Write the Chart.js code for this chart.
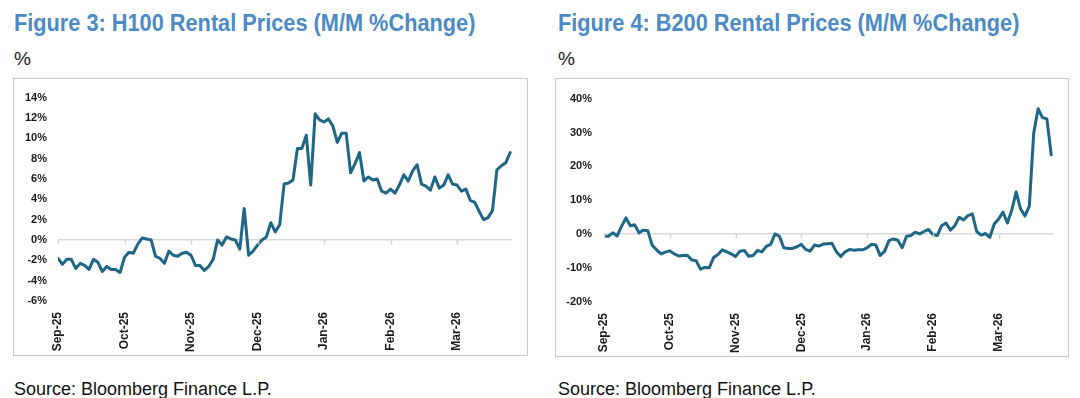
<!DOCTYPE html>
<html>
<head>
<meta charset="utf-8">
<script src="https://cdn.jsdelivr.net/npm/chart.js@4.4.1/dist/chart.umd.min.js"></script>
<style>
  body { margin: 0; width: 1080px; height: 398px; background: #fff; position: relative; overflow: hidden; font-family: "Liberation Sans", Arial, sans-serif; }
  .title { position: absolute; font-weight: bold; font-size: 23px; line-height: 23px; color: #4b8ac6; white-space: nowrap; transform: scaleX(0.945); transform-origin: left top; }
  .unit { position: absolute; font-size: 19px; line-height: 19px; color: #1a1a1a; }
  .source { position: absolute; font-size: 18px; line-height: 18px; color: #111; white-space: nowrap; }
  .box { position: absolute; border: 1px solid #c9c9c9; box-sizing: border-box; }
  canvas { position: absolute; }
</style>
</head>
<body>
<div class="title" style="left:14px; top:12px;">Figure 3: H100 Rental Prices (M/M %Change)</div>
<div class="title" style="left:558px; top:12px;">Figure 4: B200 Rental Prices (M/M %Change)</div>
<div class="unit" style="left:14px; top:49px;">%</div>
<div class="unit" style="left:558px; top:49px;">%</div>
<div class="box" style="left:13px; top:78px; width:515px; height:278px;"></div>
<div class="box" style="left:555px; top:78px; width:514px; height:279px;"></div>
<canvas id="h100Chart" width="512" height="275" style="left:14px; top:80px;"></canvas>
<canvas id="b200Chart" width="510" height="276" style="left:557px; top:80px;"></canvas>
<div class="source" style="left:14px; top:380px;">Source: Bloomberg Finance L.P.</div>
<div class="source" style="left:558px; top:380px;">Source: Bloomberg Finance L.P.</div>
<script>
const tickLabels = ['Sep-25', 'Oct-25', 'Nov-25', 'Dec-25', 'Jan-26', 'Feb-26', 'Mar-26'];
const pointsPerMonth = 15;

// H100 rental price, M/M % change
const h100Change = [
  -1.8, -2.4, -1.9, -1.9, -2.8, -2.3, -2.5, -2.9, -1.9, -2.2,
  -3.1, -2.6, -2.9, -2.9, -3.2, -1.7, -1.2, -1.3, -0.4, 0.2,
  0.1, 0.0, -1.6, -1.8, -2.3, -1.1, -1.5, -1.6, -1.3, -1.2,
  -1.5, -2.5, -2.5, -3.0, -2.6, -1.9, 0.0, -0.5, 0.3, 0.1,
  0.0, -0.9, 3.1, -1.5, -1.1, -0.5, 0.0, 0.3, 1.7, 0.8,
  1.5, 5.5, 5.6, 5.9, 9.0, 9.0, 10.3, 5.4, 12.4, 11.8,
  11.6, 11.9, 11.2, 9.6, 10.5, 10.5, 6.6, 7.5, 8.6, 5.8,
  6.2, 5.9, 6.0, 4.8, 4.6, 5.0, 4.6, 5.4, 6.4, 5.8,
  6.8, 7.4, 5.5, 5.3, 4.9, 6.2, 5.1, 5.4, 6.4, 5.5,
  5.4, 4.8, 5.0, 3.9, 3.7, 2.8, 2.0, 2.2, 2.9, 6.9,
  7.3, 7.6, 8.6
];

// B200 rental price, M/M % change
const b200Change = [
  -0.6, -0.6, 0.4, -0.5, 2.3, 4.8, 2.5, 2.8, 0.4, 1.2,
  1.0, -3.3, -4.6, -5.8, -5.3, -4.9, -5.8, -6.4, -6.3, -6.2,
  -7.6, -7.8, -10.3, -9.8, -9.9, -6.9, -6.0, -4.6, -5.2, -5.8,
  -6.6, -5.0, -4.8, -6.5, -6.3, -4.8, -5.2, -3.6, -3.0, 0.1,
  -0.6, -4.0, -4.2, -4.2, -3.7, -3.0, -4.5, -5.0, -3.2, -3.5,
  -2.9, -2.8, -2.7, -5.2, -6.6, -5.2, -4.5, -4.7, -4.6, -4.6,
  -4.0, -3.0, -3.2, -6.3, -5.0, -1.9, -1.4, -1.8, -4.0, -0.6,
  -0.4, 0.6, 0.1, 0.8, 1.4, -0.1, -0.4, 2.5, 3.3, 1.2,
  2.5, 5.0, 4.2, 5.5, 6.0, 0.8, -0.3, 0.2, -0.9, 3.0,
  4.5, 6.5, 3.3, 7.1, 12.5, 7.5, 5.4, 8.3, 29.8, 37.0,
  34.4, 34.0, 23.4
];

const h100Ticks = [-6, -4, -2, 0, 2, 4, 6, 8, 10, 12, 14];
const b200Ticks = [-20, -10, 0, 10, 20, 30, 40];

const zeroTicks = {
    id: 'zeroTicks',
    afterDraw(chart) {
        const x = chart.scales.x;
        const y = chart.scales.y;
        const zy = Math.round(y.getPixelForValue(0)) + 0.5;
        const c = chart.ctx;
        c.save();
        c.strokeStyle = '#d6d6d6';
        c.lineWidth = 1.5;
        x.ticks.forEach(t => {
            const px = Math.round(x.getPixelForValue(t.value)) + 0.5;
            c.beginPath();
            c.moveTo(px, zy - 1);
            c.lineTo(px, zy + 4);
            c.stroke();
        });
        c.restore();
    }
};

function makeChart(id, values, yTicks, axisWidth, labelPad) {
    const points = values.map((v, i) => ({ x: i, y: v }));
    return new Chart(document.getElementById(id), {
        type: 'line',
        data: {
            datasets: [{
                data: points,
                borderColor: '#1d6688',
                borderWidth: 3,
                pointRadius: 0,
                tension: 0,
                borderJoinStyle: 'round',
                borderCapStyle: 'round'
            }]
        },
        options: {
            responsive: false,
            animation: false,
            devicePixelRatio: 1,
            layout: { padding: { top: 15, right: 14, left: 0, bottom: 0 } },
            plugins: { legend: { display: false }, tooltip: { enabled: false } },
            scales: {
                x: {
                    type: 'linear',
                    min: 0,
                    max: 102.4,
                    afterBuildTicks: s => { s.ticks = tickLabels.map((_, k) => ({ value: k * pointsPerMonth })); },
                    afterFit: s => { s.height = 54; },
                    grid: { display: false },
                    border: { display: false },
                    ticks: {
                        autoSkip: false,
                        minRotation: 90,
                        maxRotation: 90,
                        padding: 3,
                        color: '#1a1a1a',
                        font: { family: 'Liberation Sans', size: 12, weight: 'bold' },
                        callback: v => tickLabels[Math.round(v / pointsPerMonth)]
                    }
                },
                y: {
                    min: yTicks[0],
                    max: yTicks[yTicks.length - 1],
                    afterBuildTicks: s => { s.ticks = yTicks.map(v => ({ value: v })); },
                    afterFit: s => { s.width = axisWidth; },
                    border: { display: false },
                    grid: {
                        drawTicks: false,
                        lineWidth: 1.5,
                        color: c => c.tick && c.tick.value === 0 ? '#d9d9d9' : 'rgba(0,0,0,0)'
                    },
                    ticks: {
                        padding: labelPad,
                        color: '#1a1a1a',
                        font: { family: 'Liberation Sans', size: 11, weight: 'bold' },
                        callback: v => v + '%'
                    }
                }
            }
        },
        plugins: [zeroTicks]
    });
}

makeChart('h100Chart', h100Change, h100Ticks, 44, 11);
makeChart('b200Chart', b200Change, b200Ticks, 47, 12);
</script>
</body>
</html>
